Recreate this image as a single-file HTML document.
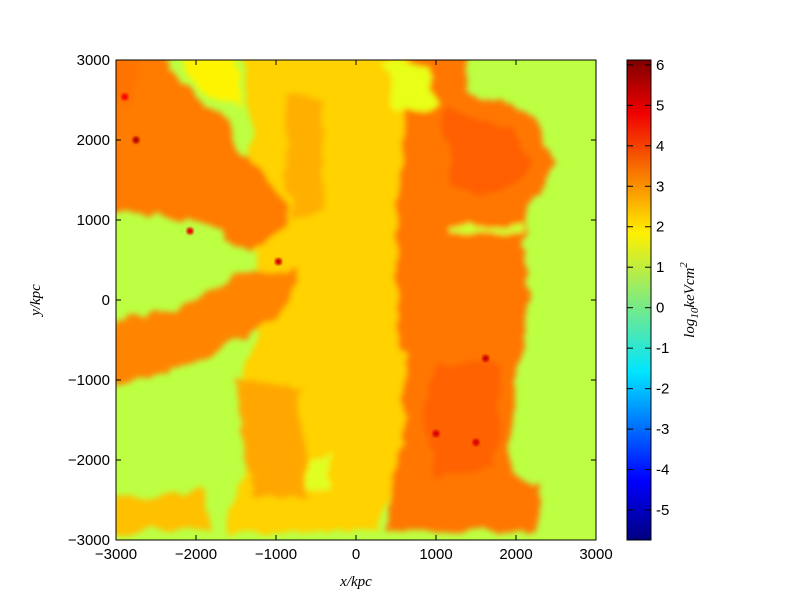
<!DOCTYPE html>
<html><head><meta charset="utf-8"><style>
body{margin:0;background:#fff;}
svg text{font-family:"Liberation Sans",sans-serif;font-size:15px;fill:#000;}
.m{font-family:"Liberation Serif",serif;font-style:italic;}
</style></head><body>
<svg id="c" width="800" height="600" xmlns="http://www.w3.org/2000/svg">
<defs>
<clipPath id="clip"><rect x="116" y="60" width="480" height="480"/></clipPath>
<filter id="org" x="-10%" y="-10%" width="120%" height="120%">
<feTurbulence type="fractalNoise" baseFrequency="0.04" numOctaves="3" seed="4" result="n"/>
<feDisplacementMap in="SourceGraphic" in2="n" scale="18" xChannelSelector="R" yChannelSelector="G" result="d"/>
<feGaussianBlur in="d" stdDeviation="3"/>
</filter>
<filter id="soft"><feGaussianBlur stdDeviation="1.2"/></filter>
<linearGradient id="cbg" x1="0" y1="1" x2="0" y2="0"></linearGradient>
</defs>
<g id="plot" clip-path="url(#clip)"></g>
<rect x="116" y="60" width="480" height="480" fill="none" stroke="#000" stroke-width="1"/>
<g id="axes"></g>
<rect x="627" y="60" width="24" height="480" fill="url(#cbg)" stroke="#000"/>
<g id="cb"></g>
<text class="m" x="356" y="586" text-anchor="middle" font-size="16">x/kpc</text>
<text class="m" transform="translate(40,300) rotate(-90)" text-anchor="middle" font-size="16">y/kpc</text>
<text class="m" transform="translate(694,300) rotate(-90)" text-anchor="middle" font-size="16">log<tspan font-size="11" dy="4">10</tspan><tspan dy="-4">keVcm</tspan><tspan font-size="11" dy="-7">2</tspan></text>
</svg>
<script>
const NS="http://www.w3.org/2000/svg";
const VMIN=-5.74, VMAX=6.12, BG=0.9;
const xTicks=[-3000,-2000,-1000,0,1000,2000,3000];
const yTicks=[-3000,-2000,-1000,0,1000,2000,3000];
const cbTicks=[6,5,4,3,2,1,0,-1,-2,-3,-4,-5];
const regionNames=["right-lobe","center-yellow","top-left-yellowgreen","upper-left-arm","lower-left-arm","right-lobe-upper-core","right-lobe-lower-core","green-channel","top-center-green","bottom-left-patch","center-left-patches","center-upper-patches","top-left-corner","center-green-spot"];
const regionValues=[3.25,2.2,1.8,3.2,3.1,3.55,3.5,1.1,1.4,2.4,2.7,2.6,3.3,1.3];
const regionPoints=[
[[600,3000],[1500,3000],[1500,2500],[2300,2200],[2600,1600],[2300,1000],[2200,600],[2300,0],[2200,-500],[2100,-1300],[2000,-2000],[2100,-2300],[2400,-2400],[2400,-3000],[500,-3000],[600,-2000],[400,-1000],[400,0],[500,1000],[500,2000]],
[[-1300,3000],[800,3000],[700,2000],[650,1000],[600,0],[700,-1000],[700,-2000],[400,-3000],[-1500,-3000],[-1200,-2000],[-1300,-1000],[-1000,0],[-1400,1000],[-1200,2000]],
[[-2200,3000],[-1400,3000],[-1300,2300],[-1700,2400]],
[[-3000,2900],[-2400,3000],[-1600,2200],[-1300,1700],[-800,1200],[-700,800],[-1200,500],[-2000,900],[-3000,1000]],
[[-3000,-400],[-2000,-200],[-1400,200],[-600,300],[-800,-300],[-1500,-700],[-2200,-1000],[-3000,-1200]],
[[1200,2300],[2100,2000],[2300,1500],[1900,1200],[1300,1300]],
[[1100,-900],[1900,-900],[1900,-1500],[1800,-2200],[1100,-2400],[1000,-1500]],
[[1300,820],[2200,820],[2200,730],[1300,730]],
[[500,2900],[1000,2800],[1100,2300],[600,2200]],
[[-2900,-2600],[-1800,-2500],[-1700,-3000],[-3000,-3000]],
[[-1400,-1100],[-600,-1200],[-500,-2600],[-1200,-2600]],
[[-800,2500],[-300,2400],[-300,1000],[-700,900]],
[[-3000,3000],[-2600,3000],[-2700,2300],[-3000,2300]],
[[-500,-2100],[-200,-2000],[-200,-2500],[-500,-2500]]
];
const dotX=[-970,1620,1000,1500,-2075,-2890,-2750];
const dotY=[480,-730,-1670,-1780,862,2540,2000];
const dotV=[5.2,5.2,5.1,5.1,4.9,4.7,5.5];

const sx=x=>116+(x+3000)*480/6000, sy=y=>300-y*0.08;
const cy=v=>60+(VMAX-v)/(VMAX-VMIN)*480;
function jet(v){const t=(v-VMIN)/(VMAX-VMIN);const c=a=>Math.round(255*Math.max(0,Math.min(1,1.5-Math.abs(4*t-a))));return `rgb(${c(3)},${c(2)},${c(1)})`;}
const plot=document.getElementById('plot');
const bg=document.createElementNS(NS,'rect');
bg.setAttribute('x',116);bg.setAttribute('y',60);bg.setAttribute('width',480);bg.setAttribute('height',480);bg.setAttribute('fill',jet(BG));


plot.appendChild(bg);
const g=document.createElementNS(NS,'g');g.setAttribute('filter','url(#org)');g.setAttribute('transform','translate(-9,-9)');plot.appendChild(g);
regionPoints.forEach((pts,i)=>{const p=document.createElementNS(NS,'polygon');
p.setAttribute('points',pts.map(q=>sx(q[0])+','+sy(q[1])).join(' '));p.setAttribute('fill',jet(regionValues[i]));


g.appendChild(p);});
dotX.forEach((x,i)=>{const c=document.createElementNS(NS,'circle');c.setAttribute('cx',sx(x));c.setAttribute('cy',sy(dotY[i]));c.setAttribute('r',3.5);c.setAttribute('fill',jet(dotV[i]));c.setAttribute('filter','url(#soft)');


plot.appendChild(c);});
const ax=document.getElementById('axes');
function line(x1,y1,x2,y2){const l=document.createElementNS(NS,'line');l.setAttribute('x1',x1);l.setAttribute('y1',y1);l.setAttribute('x2',x2);l.setAttribute('y2',y2);l.setAttribute('stroke','#000');return l;}
function txt(s,x,y,a,name,par){const t=document.createElementNS(NS,'text');t.textContent=s;t.setAttribute('x',x);t.setAttribute('y',y);t.setAttribute('text-anchor',a);


par.appendChild(t);}
const lab=v=>v<0?'\u2212'+(-v):''+v;
xTicks.forEach(v=>{const x=sx(v);ax.appendChild(line(x,540,x,535));ax.appendChild(line(x,60,x,65));txt(lab(v),x,559,'middle','x-tick-label',ax);});
yTicks.forEach(v=>{const y=sy(v);ax.appendChild(line(116,y,121,y));ax.appendChild(line(596,y,591,y));txt(lab(v),110,y+5,'end','y-tick-label',ax);});
const grad=document.getElementById('cbg');
[0,0.11,0.125,0.34,0.35,0.64,0.65,0.89,0.91,1].forEach(f=>{const s=document.createElementNS(NS,'stop');s.setAttribute('offset',f);s.setAttribute('stop-color',jet(VMIN+f*(VMAX-VMIN)));grad.appendChild(s);});
const cb=document.getElementById('cb');
cbTicks.forEach(v=>{const y=cy(v);cb.appendChild(line(645,y,651,y));cb.appendChild(line(627,y,633,y));txt(''+v,656,y+5,'start','colorbar-tick-label',cb);});
</script>
</body></html>
